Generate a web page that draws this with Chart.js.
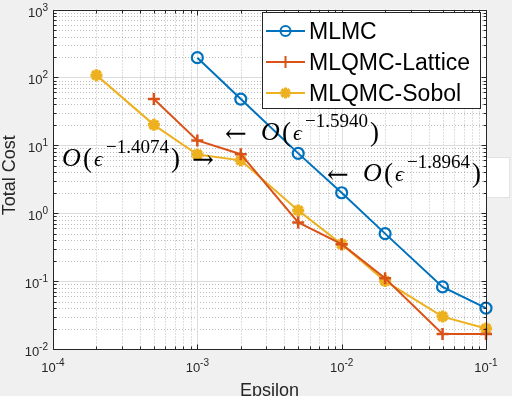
<!DOCTYPE html>
<html>
<head>
<meta charset="utf-8">
<script src="https://cdn.jsdelivr.net/npm/chart.js@4/dist/chart.umd.min.js"></script>
<style>
  html, body { margin: 0; padding: 0; background: #f0f0f0; }
  canvas { display: block; }
</style>
</head>
<body>
<canvas id="chart" width="512" height="396"></canvas>
<script>
// values (log-log)
const epsMLMC = [0.001, 0.002, 0.005, 0.01, 0.02, 0.05, 0.1];
const costMLMC = [195, 48, 7.6, 2.0, 0.5, 0.082, 0.04];
const epsLattice = [0.0005, 0.001, 0.002, 0.005, 0.01, 0.02, 0.05, 0.1];
const costLattice = [48, 11.8, 7.4, 0.73, 0.35, 0.11, 0.0166, 0.0166];
const epsSobol = [0.0002, 0.0005, 0.001, 0.002, 0.005, 0.01, 0.02, 0.05, 0.1];
const costSobol = [108, 20, 7.3, 6.0, 1.1, 0.35, 0.1, 0.030, 0.020];
const seriesNames = ['MLMC', 'MLQMC-Lattice', 'MLQMC-Sobol'];
const seriesColors = ['#0072BD', '#D95319', '#EDB120'];
const rateLabels = ['\u22121.4074', '\u22121.5940', '\u22121.8964'];

const xDecades = [-4, -3, -2, -1];
const yDecades = [-2, -1, 0, 1, 2, 3];

const toPoints = (xs, ys) => xs.map((x, i) => ({ x: x, y: ys[i] }));

const AXIS = '#262626';
const SANS = '"Liberation Sans", Arial, Helvetica, sans-serif';
const SERIF = '"Liberation Serif", "Times New Roman", serif';

function logTicks(decades) {
  const out = [];
  for (let d = decades[0]; d < decades[decades.length - 1]; d++) {
    for (let m = 1; m <= 9; m++) out.push({ v: m * Math.pow(10, d), major: m === 1 });
  }
  out.push({ v: Math.pow(10, decades[decades.length - 1]), major: true });
  return out;
}

// draws 10^n with a raised exponent
function powLabel(ctx, n, x, y, align) {
  const base = '10', exp = String(n);
  ctx.font = '13px ' + SANS;
  const wb = ctx.measureText(base).width;
  ctx.font = '10px ' + SANS;
  const we = ctx.measureText(exp).width;
  let left = align === 'right' ? x - wb - we : x - (wb + we) / 2;
  ctx.fillStyle = AXIS;
  ctx.textAlign = 'left';
  ctx.textBaseline = 'alphabetic';
  ctx.font = '13px ' + SANS;
  ctx.fillText(base, left, y);
  ctx.font = '10px ' + SANS;
  ctx.fillText(exp, left + wb, y - 6);
}

// O(eps^rate) with an arrow before or after
function bigO(ctx, x0, base, rate, arrow) {
  ctx.fillStyle = '#000';
  ctx.textAlign = 'left';
  ctx.textBaseline = 'alphabetic';
  ctx.font = 'italic 26px ' + SERIF;
  ctx.fillText('O', x0 - 1, base);
  ctx.font = '27px ' + SERIF;
  ctx.fillText('(', x0 + 20, base + 1);
  ctx.font = 'italic 22px ' + SERIF;
  ctx.fillText('\u03F5', x0 + 31, base);
  ctx.font = '19px ' + SERIF;
  ctx.fillText(rate, x0 + 43, base - 13);
  const we = ctx.measureText(rate).width;
  ctx.font = '27px ' + SERIF;
  ctx.fillText(')', x0 + 45 + we, base + 1);
  ctx.font = '26px "DejaVu Serif", serif';
  if (arrow === 'right') ctx.fillText('\u2192', x0 + 129, base + 2);
  if (arrow === 'left') ctx.fillText('\u2190', x0 - 37, base + 2);
}

function legendMarker(ctx, i, x, y) {
  ctx.strokeStyle = seriesColors[i];
  ctx.lineWidth = 2;
  ctx.beginPath();
  if (i === 0) {
    ctx.arc(x, y, 5, 0, Math.PI * 2);
  } else {
    const r = i === 1 ? 6 : 5.5;
    ctx.moveTo(x - r, y); ctx.lineTo(x + r, y);
    ctx.moveTo(x, y - r); ctx.lineTo(x, y + r);
    if (i === 2) {
      ctx.lineWidth = 3;
      const d = r * 0.707;
      ctx.moveTo(x - d, y - d); ctx.lineTo(x + d, y + d);
      ctx.moveTo(x - d, y + d); ctx.lineTo(x + d, y - d);
    }
  }
  ctx.stroke();
}

const matlabLook = {
  id: 'matlabLook',
  beforeDraw(chart) {
    const { ctx, chartArea: a } = chart;
    ctx.save();
    ctx.fillStyle = '#f0f0f0';
    ctx.fillRect(0, 0, chart.width, chart.height);
    // text box of the third annotation sticks out of the axes
    ctx.fillStyle = '#fff';
    ctx.fillRect(470, 157, 40, 40);
    ctx.strokeStyle = '#e2e2e2';
    ctx.lineWidth = 1;
    ctx.strokeRect(470.5, 157.5, 39, 40);
    ctx.fillStyle = '#fff';
    ctx.fillRect(a.left, a.top, a.right - a.left, a.bottom - a.top);
    ctx.restore();
  },
  beforeDatasetsDraw(chart) {
    const { ctx, chartArea: a, scales: { x, y } } = chart;
    ctx.save();
    ctx.lineWidth = 1;
    const xt = logTicks(xDecades), yt = logTicks(yDecades);
    // minor grid first, dotted
    ctx.strokeStyle = 'rgba(38,38,38,0.3)';
    ctx.setLineDash([1, 2]);
    ctx.beginPath();
    xt.filter(t => !t.major).forEach(t => {
      const px = Math.round(x.getPixelForValue(t.v)) + 0.5;
      ctx.moveTo(px, a.top); ctx.lineTo(px, a.bottom);
    });
    yt.filter(t => !t.major).forEach(t => {
      const py = Math.round(y.getPixelForValue(t.v)) + 0.5;
      ctx.moveTo(a.left, py); ctx.lineTo(a.right, py);
    });
    ctx.stroke();
    ctx.setLineDash([]);
    ctx.strokeStyle = '#dcdcdc';
    ctx.beginPath();
    xt.filter(t => t.major).forEach(t => {
      const px = Math.round(x.getPixelForValue(t.v)) + 0.5;
      ctx.moveTo(px, a.top); ctx.lineTo(px, a.bottom);
    });
    yt.filter(t => t.major).forEach(t => {
      const py = Math.round(y.getPixelForValue(t.v)) + 0.5;
      ctx.moveTo(a.left, py); ctx.lineTo(a.right, py);
    });
    ctx.stroke();
    ctx.restore();
  },
  afterDraw(chart) {
    const { ctx, chartArea: a, scales: { x, y } } = chart;
    ctx.save();
    const L = Math.round(a.left) + 0.5, R = Math.round(a.right) + 0.5;
    const T = Math.round(a.top) + 0.5, B = Math.round(a.bottom) + 0.5;

    // axes box with inward ticks on all sides
    ctx.strokeStyle = AXIS;
    ctx.lineWidth = 1;
    ctx.beginPath();
    ctx.rect(L, T, R - L, B - T);
    logTicks(xDecades).forEach(t => {
      const px = Math.round(x.getPixelForValue(t.v)) + 0.5, len = t.major ? 5 : 3;
      ctx.moveTo(px, B); ctx.lineTo(px, B - len);
      ctx.moveTo(px, T); ctx.lineTo(px, T + len);
    });
    logTicks(yDecades).forEach(t => {
      const py = Math.round(y.getPixelForValue(t.v)) + 0.5, len = t.major ? 5 : 3;
      ctx.moveTo(L, py); ctx.lineTo(L + len, py);
      ctx.moveTo(R, py); ctx.lineTo(R - len, py);
    });
    ctx.stroke();

    // tick labels
    xDecades.forEach(d => powLabel(ctx, d, x.getPixelForValue(Math.pow(10, d)), a.bottom + 23, 'center'));
    yDecades.forEach(d => powLabel(ctx, d, a.left - 5, y.getPixelForValue(Math.pow(10, d)) + 7, 'right'));

    // axis titles
    ctx.fillStyle = AXIS;
    ctx.font = '18px ' + SANS;
    ctx.textAlign = 'center';
    ctx.textBaseline = 'alphabetic';
    ctx.fillText('Epsilon', (a.left + a.right) / 2, a.bottom + 47);
    ctx.save();
    ctx.translate(15, (a.top + a.bottom) / 2 - 4);
    ctx.rotate(-Math.PI / 2);
    ctx.fillText('Total Cost', 0, 0);
    ctx.restore();

    // rate annotations
    bigO(ctx, 63, 166, rateLabels[0], 'right');
    bigO(ctx, 262, 140, rateLabels[1], 'left');
    bigO(ctx, 364, 181, rateLabels[2], 'left');

    // legend
    ctx.fillStyle = '#fff';
    ctx.fillRect(262, 12, 218, 96);
    ctx.strokeStyle = AXIS;
    ctx.lineWidth = 1;
    ctx.strokeRect(262.5, 12.5, 218, 96);
    seriesNames.forEach((name, i) => {
      const cy = 31 + i * 31;
      ctx.strokeStyle = seriesColors[i];
      ctx.lineWidth = 2;
      ctx.beginPath();
      ctx.moveTo(266, cy); ctx.lineTo(305, cy);
      ctx.stroke();
      legendMarker(ctx, i, 285.5, cy);
      ctx.fillStyle = '#000';
      ctx.font = '23px ' + SANS;
      ctx.textAlign = 'left';
      ctx.textBaseline = 'alphabetic';
      ctx.fillText(name, 309, cy + 8);
    });
    ctx.restore();
  }
};

const common = { borderWidth: 2, clip: false, tension: 0 };

new Chart(document.getElementById('chart'), {
  type: 'line',
  data: {
    datasets: [
      {
        ...common,
        label: seriesNames[0],
        data: toPoints(epsMLMC, costMLMC),
        borderColor: seriesColors[0],
        backgroundColor: 'rgba(0,0,0,0)',
        pointStyle: 'circle',
        pointRadius: 5.5,
        pointBorderWidth: 2.2
      },
      {
        ...common,
        label: seriesNames[1],
        data: toPoints(epsLattice, costLattice),
        borderColor: seriesColors[1],
        backgroundColor: seriesColors[1],
        pointStyle: 'cross',
        pointRadius: 6,
        pointBorderWidth: 2.5
      },
      {
        ...common,
        label: seriesNames[2],
        data: toPoints(epsSobol, costSobol),
        borderColor: seriesColors[2],
        backgroundColor: seriesColors[2],
        pointStyle: 'star',
        pointRadius: 6,
        pointBorderWidth: 3.5
      }
    ]
  },
  options: {
    responsive: false,
    animation: false,
    devicePixelRatio: 1,
    layout: { padding: { left: 53, right: 26, top: 7, bottom: 47 } },
    plugins: { legend: { display: false }, tooltip: { enabled: false } },
    scales: {
      x: {
        type: 'logarithmic', min: 1e-4, max: 1e-1,
        grid: { display: false, drawTicks: false },
        border: { display: false },
        ticks: { display: false }
      },
      y: {
        type: 'logarithmic', min: 1e-2, max: 1e3,
        grid: { display: false, drawTicks: false },
        border: { display: false },
        ticks: { display: false }
      }
    }
  },
  plugins: [matlabLook]
});
</script>
</body>
</html>
